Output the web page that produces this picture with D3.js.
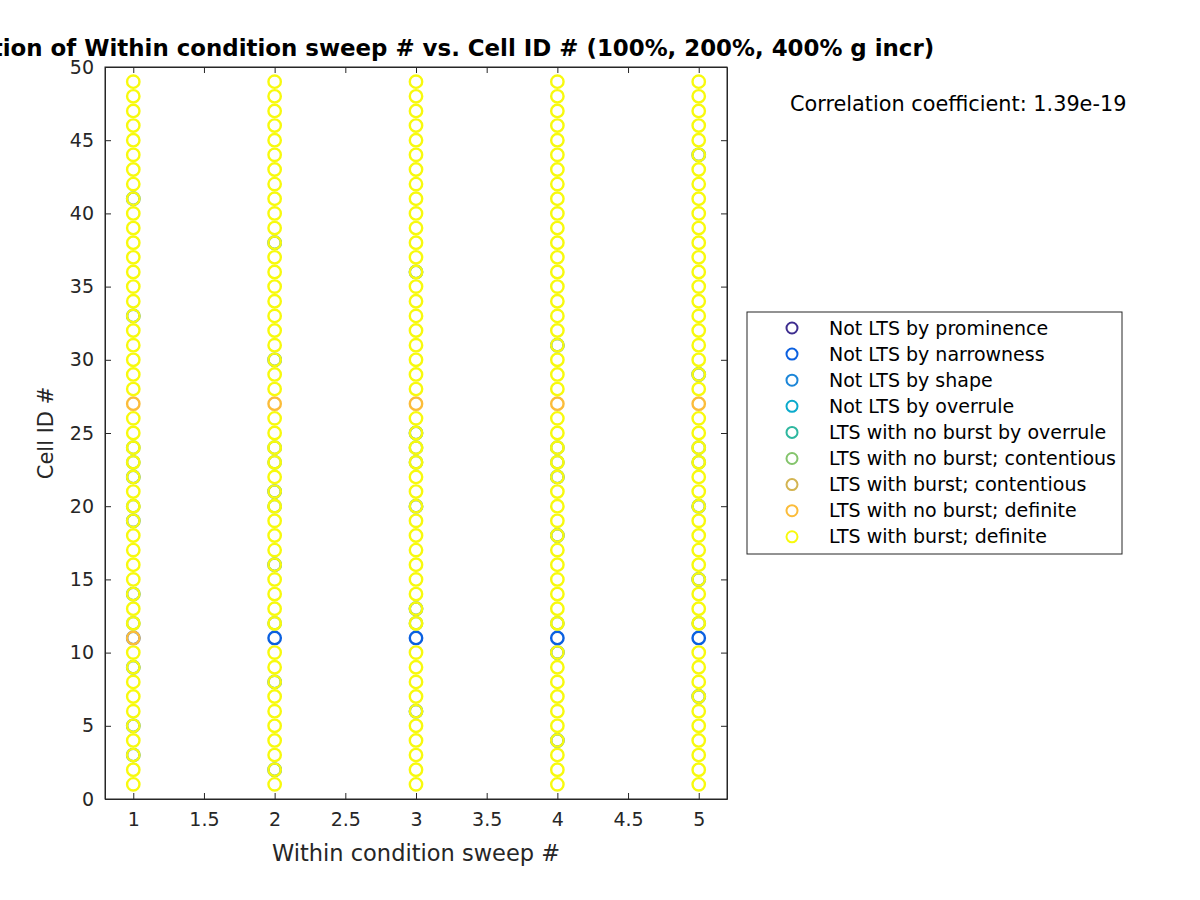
<!DOCTYPE html>
<html lang="en">
<head>
    <meta charset="UTF-8">
    <title>Within condition sweep # vs. Cell ID #</title>
    <script src="https://d3js.org/d3.v7.min.js"></script>
    <style>
        body, html {
            margin: 0;
            padding: 0;
            background: #fff;
            overflow: hidden;
            font-family: "DejaVu Sans", sans-serif;
        }
    </style>
</head>
<body>
    <div id="chart"></div>

    <script>
        // sweeps and cells plotted
        const sweeps = [1, 2, 3, 4, 5];
        const cellIds = [1, 2, 3, 4, 5, 6, 7, 8, 9, 10, 11, 12, 13, 14, 15, 16, 17, 18, 19, 20,
            21, 22, 23, 24, 25, 26, 27, 28, 29, 30, 31, 32, 33, 34, 35, 36, 37, 38, 39, 40,
            41, 42, 43, 44, 45, 46, 47, 48, 49];

        const xTicks = [1, 1.5, 2, 2.5, 3, 3.5, 4, 4.5, 5];
        const yTicks = [0, 5, 10, 15, 20, 25, 30, 35, 40, 45, 50];

        const groupNames = [
            "Not LTS by prominence",
            "Not LTS by narrowness",
            "Not LTS by shape",
            "Not LTS by overrule",
            "LTS with no burst by overrule",
            "LTS with no burst; contentious",
            "LTS with burst; contentious",
            "LTS with no burst; definite",
            "LTS with burst; definite"
        ];
        const groupColors = ["#3e2d8f", "#0b60e0", "#1c86d8", "#0aaacc", "#2eb79f",
            "#84c46c", "#d3b451", "#fbbc3a", "#f8fa0d"];

        // [sweep, cell] points for each group
        const prominencePts = [];
        const narrownessPts = [[1, 11], [2, 11], [3, 11], [4, 11], [5, 11]];
        const shapePts = [[1, 3], [1, 5], [1, 9], [1, 14], [1, 19], [1, 22], [1, 33], [1, 41],
            [2, 2], [2, 8], [2, 16], [2, 21], [2, 30], [2, 38], [3, 6], [3, 13], [3, 20], [3, 25],
            [3, 36], [4, 4], [4, 10], [4, 18], [4, 22], [4, 31], [5, 7], [5, 15], [5, 20], [5, 29], [5, 44]];
        const overrulePts = [];
        const noBurstOverrulePts = [];
        const noBurstContentiousPts = [[1, 12], [1, 20], [1, 23], [1, 24], [2, 12], [2, 20], [2, 23], [2, 24],
            [3, 12], [3, 23], [3, 24], [4, 12], [4, 23], [4, 24], [5, 12], [5, 23], [5, 24]];
        const burstContentiousPts = [];
        const noBurstDefinitePts = [[1, 11], [1, 27], [2, 27], [3, 27], [4, 27], [5, 27]];
        const burstDefiniteExcl = [[1, 11], [1, 27], [2, 11], [2, 27], [3, 11], [3, 27], [4, 11], [4, 27], [5, 11], [5, 27]];
        const burstDefinitePts = d3.cross(sweeps, cellIds)
            .filter(p => !burstDefiniteExcl.some(e => e[0] === p[0] && e[1] === p[1]));

        const groupPts = [prominencePts, narrownessPts, shapePts, overrulePts, noBurstOverrulePts,
            noBurstContentiousPts, burstContentiousPts, noBurstDefinitePts, burstDefinitePts];

        const width = 1200, height = 900;
        const margin = {top: 67, right: 473, bottom: 101, left: 105};
        const innerWidth = width - margin.left - margin.right;
        const innerHeight = height - margin.top - margin.bottom;

        const svg = d3.select("#chart").append("svg")
            .attr("width", width)
            .attr("height", height)
            .style("display", "block");

        const g = svg.append("g")
            .attr("transform", `translate(${margin.left},${margin.top})`);

        const x = d3.scaleLinear().domain([0.8, 5.2]).range([0, innerWidth]);
        const y = d3.scaleLinear().domain([0, 50]).range([innerHeight, 0]);

        // markers, groups drawn in legend order
        groupPts.forEach((pts, i) => {
            g.append("g").selectAll("circle")
                .data(pts)
                .enter().append("circle")
                .attr("cx", d => x(d[0]))
                .attr("cy", d => y(d[1]))
                .attr("r", 6.2)
                .attr("fill", "none")
                .attr("stroke", groupColors[i])
                .attr("stroke-width", 2.4);
        });

        // axes (MATLAB style: ticks inside, box on)
        const tickLen = 6;
        const axisColor = "#262626";

        const xAxis = g.append("g")
            .attr("transform", `translate(0,${innerHeight})`)
            .call(d3.axisBottom(x).tickValues(xTicks).tickSizeInner(-tickLen).tickSizeOuter(0).tickPadding(14)
                .tickFormat(d3.format("")));
        const xAxisTop = g.append("g")
            .call(d3.axisTop(x).tickValues(xTicks).tickSizeInner(-tickLen).tickSizeOuter(0).tickFormat(""));
        const yAxis = g.append("g")
            .call(d3.axisLeft(y).tickValues(yTicks).tickSizeInner(-tickLen).tickSizeOuter(0).tickPadding(11));
        const yAxisRight = g.append("g")
            .attr("transform", `translate(${innerWidth},0)`)
            .call(d3.axisRight(y).tickValues(yTicks).tickSizeInner(-tickLen).tickSizeOuter(0).tickFormat(""));

        [xAxis, xAxisTop, yAxis, yAxisRight].forEach(a => {
            a.select(".domain").attr("stroke", axisColor);
            a.selectAll(".tick line").attr("stroke", axisColor);
            a.selectAll(".tick text")
                .attr("fill", axisColor)
                .style("font-family", "DejaVu Sans, sans-serif")
                .style("font-size", "19px");
        });
        // full frame
        g.append("rect")
            .attr("width", innerWidth)
            .attr("height", innerHeight)
            .attr("fill", "none")
            .attr("stroke", axisColor)
            .attr("stroke-width", 1);

        // axis labels
        g.append("text")
            .attr("x", innerWidth / 2)
            .attr("y", innerHeight + 62)
            .attr("text-anchor", "middle")
            .attr("fill", axisColor)
            .style("font-size", "22.5px")
            .text("Within condition sweep #");

        g.append("text")
            .attr("transform", `translate(-52,${innerHeight / 2}) rotate(-90)`)
            .attr("text-anchor", "middle")
            .attr("fill", axisColor)
            .style("font-size", "21px")
            .text("Cell ID #");

        // title
        svg.append("text")
            .attr("x", margin.left + innerWidth / 2)
            .attr("y", 56)
            .attr("text-anchor", "middle")
            .attr("fill", "#000")
            .style("font-size", "22.9px")
            .style("font-weight", "bold")
            .text("Correlation of Within condition sweep # vs. Cell ID # (100%, 200%, 400% g incr)");

        // correlation annotation
        svg.append("text")
            .attr("x", 790)
            .attr("y", 111)
            .attr("fill", "#000")
            .style("font-size", "20.8px")
            .text("Correlation coefficient: 1.39e-19");

        // legend
        const legend = svg.append("g").attr("transform", "translate(747,312)");
        legend.append("rect")
            .attr("width", 375)
            .attr("height", 242)
            .attr("fill", "#fff")
            .attr("stroke", "#262626")
            .attr("stroke-width", 1);

        const item = legend.selectAll(".legend")
            .data(groupNames)
            .enter().append("g")
            .attr("class", "legend")
            .attr("transform", (d, i) => `translate(0,${16 + i * 26.1})`);

        item.append("circle")
            .attr("cx", 45)
            .attr("cy", 0)
            .attr("r", 5.5)
            .attr("fill", "none")
            .attr("stroke-width", 2)
            .attr("stroke", (d, i) => groupColors[i]);

        item.append("text")
            .attr("x", 82)
            .attr("y", 0)
            .attr("dy", "0.35em")
            .attr("fill", "#000")
            .style("font-size", "19px")
            .text(d => d);
    </script>
</body>
</html>
